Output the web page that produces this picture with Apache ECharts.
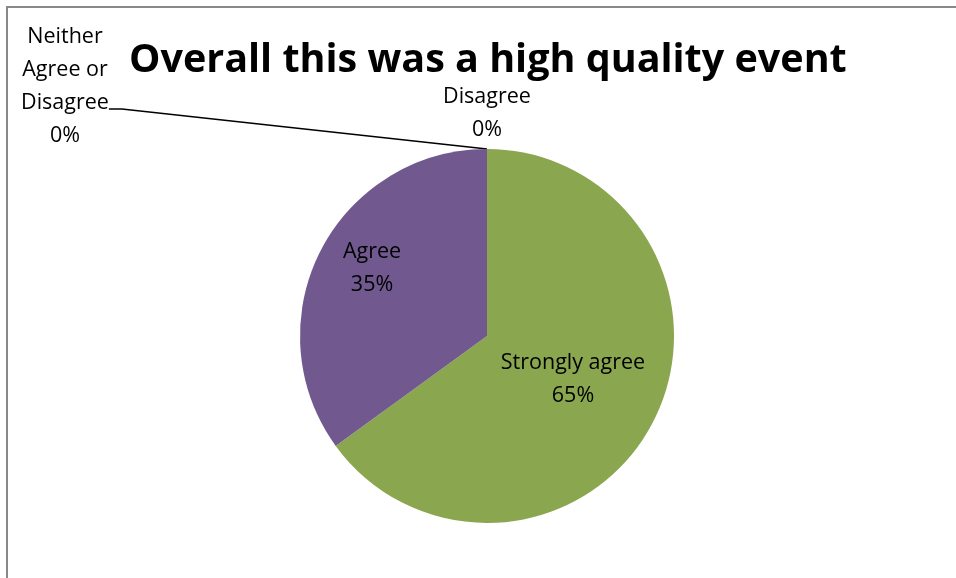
<!DOCTYPE html>
<html>
<head>
<meta charset="utf-8">
<script src="https://cdn.jsdelivr.net/npm/echarts@6/dist/echarts.min.js"></script>
<style>
html,body{margin:0;padding:0;background:#fff;}
#c{width:956px;height:578px;}
</style>
</head>
<body>
<div id="c"></div>
<script>
const titleText = 'Overall this was a high quality event';
const categories = ['Strongly agree', 'Agree', 'Neither\nAgree or\nDisagree', 'Disagree'];
const values = [65, 35, 0, 0];
const colors = ['#8AA64F', '#71598F', '#4BACC6', '#C0504D'];

const FONT = 'Open Sans';
const chart = echarts.init(document.getElementById('c'), null, {renderer: 'canvas'});

const data = categories.map((name, i) => ({
  name: name,
  value: values[i],
  itemStyle: {color: colors[i]}
}));
// "Neither" label: invisible spacer line below so its leader line attaches lower
data[2].label = {
  formatter: p => p.name + '\n' + Math.round(p.percent) + '%\n{sp| }',
  rich: {sp: {lineHeight: 46, fontSize: 10}}
};
data[3].labelLine = {show: false};

chart.setOption({
  animation: false,
  backgroundColor: '#fff',
  title: {
    text: titleText,
    left: 124,
    top: 36,
    textStyle: {fontFamily: FONT, fontWeight: 'bold', fontSize: 39.5, color: '#000'}
  },
  graphic: [{
    type: 'rect',
    shape: {x: 7, y: 7, width: 1000, height: 1000},
    style: {fill: 'none', stroke: '#888', lineWidth: 2},
    silent: true
  }],
  series: [{
    type: 'pie',
    center: [487, 336],
    radius: 187,
    startAngle: 90,
    clockwise: true,
    avoidLabelOverlap: false,
    data: data,
    itemStyle: {borderWidth: 0},
    label: {
      show: true,
      position: 'inside',
      formatter: p => p.name + '\n' + Math.round(p.percent) + '%',
      fontFamily: FONT,
      fontSize: 21.5,
      lineHeight: 33,
      color: '#000',
      align: 'center'
    },
    labelLine: {show: true, length2: 13, lineStyle: {color: '#000', width: 1.5}},
    labelLayout: function (p) {
      if (p.dataIndex === 0) {
        return {dx: 0, dy: 0};
      }
      if (p.dataIndex === 1) {
        return {dx: -29, dy: -24};
      }
      if (p.dataIndex === 2) {
        return {x: 65, y: 109, align: 'center', verticalAlign: 'middle'};
      }
      if (p.dataIndex === 3) {
        return {x: 487, y: 113, align: 'center', verticalAlign: 'middle'};
      }
    }
  }]
});
</script>
</body>
</html>
